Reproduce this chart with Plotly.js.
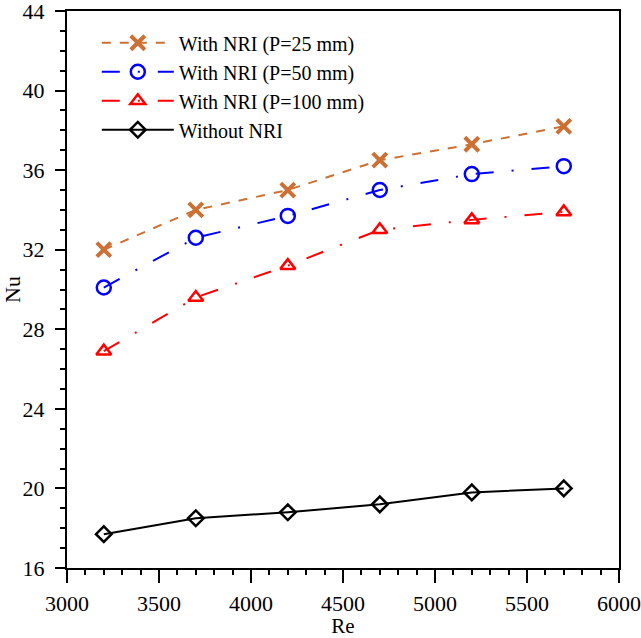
<!DOCTYPE html>
<html>
<head>
<meta charset="utf-8">
<script src="https://cdn.plot.ly/plotly-3.0.1.min.js"></script>
<style>
  html, body { margin: 0; padding: 0; background: #fff; }
  #chart { width: 641px; height: 638px; }
</style>
</head>
<body>
<div id="chart"></div>
<script>
var re = [3200, 3700, 4200, 4700, 5200, 5700];
var nuP25 = [32.0, 34.0, 35.0, 36.5, 37.3, 38.2];
var nuP50 = [30.1, 32.6, 33.7, 35.0, 35.8, 36.2];
var nuP100 = [26.9, 29.6, 31.2, 33.0, 33.5, 33.9];
var nuPlain = [17.7, 18.5, 18.8, 19.2, 19.8, 20.0];

var serif = 'Liberation Serif';

var p25Trace = {
  name: 'With NRI (P=25 mm)',
  x: re,
  y: nuP25,
  mode: 'lines+markers',
  type: 'scatter',
  line: { color: '#cc7033', width: 2, dash: 'dash' },
  marker: { symbol: 'x-thin-open', size: 14, color: '#cc7033',
            line: { color: '#cc7033', width: 4 } },
};

var p50Trace = {
  name: 'With NRI (P=50 mm)',
  x: re,
  y: nuP50,
  mode: 'lines+markers',
  type: 'scatter',
  line: { color: '#0000ff', width: 2, dash: '18px,18px,2px,18px' },
  marker: { symbol: 'circle-open', size: 14, color: '#0000ff',
            line: { color: '#0000ff', width: 2.5 } },
};

var p100Trace = {
  name: 'With NRI (P=100 mm)',
  x: re,
  y: nuP100,
  mode: 'lines+markers',
  type: 'scatter',
  line: { color: '#ff0000', width: 2, dash: '18px,18px,2px,18px' },
  marker: { symbol: 'triangle-up-open', size: 13, color: '#ff0000',
            line: { color: '#ff0000', width: 2.5 } },
};

var plainTrace = {
  name: 'Without NRI',
  x: re,
  y: nuPlain,
  mode: 'lines+markers',
  type: 'scatter',
  line: { color: '#000000', width: 2 },
  marker: { symbol: 'diamond-open', size: 12, color: '#000000',
            line: { color: '#000000', width: 2.5 } },
};

var data = [p25Trace, p50Trace, p100Trace, plainTrace];

var layout = {
  width: 641,
  height: 638,
  margin: { l: 67, r: 22, t: 11, b: 70 },
  paper_bgcolor: '#ffffff',
  plot_bgcolor: '#ffffff',
  font: { family: serif, size: 20, color: '#000000' },
  showlegend: true,
  legend: {
    x: 0.054, y: 0.978,
    xanchor: 'left', yanchor: 'top',
    bgcolor: 'rgba(0,0,0,0)',
    itemwidth: 72,
    font: { family: serif, size: 20, color: '#000000' },
  },
  xaxis: {
    range: [3000, 6000],
    autorange: false,
    dtick: 500,
    ticks: 'outside', ticklen: 13, tickwidth: 2, tickcolor: '#000',
    minor: { dtick: 100, ticks: 'outside', ticklen: 5, tickwidth: 2, tickcolor: '#000' },
    showline: true, linewidth: 2, linecolor: '#000', mirror: true,
    showgrid: false, zeroline: false,
    ticklabelstandoff: 2,
    title: { text: 'Re', font: { family: serif, size: 21 } },
    tickfont: { family: serif, size: 22, color: '#000' },
  },
  yaxis: {
    range: [16, 44],
    autorange: false,
    dtick: 4,
    ticks: 'outside', ticklen: 10, tickwidth: 2, tickcolor: '#000',
    minor: { dtick: 1, ticks: 'outside', ticklen: 5, tickwidth: 2, tickcolor: '#000' },
    showline: true, linewidth: 2, linecolor: '#000', mirror: true,
    showgrid: false, zeroline: false,
    ticklabeloverflow: 'allow',
    ticklabelstandoff: 6,
    title: { text: 'Nu', font: { family: serif, size: 22 }, standoff: 4 },
    tickfont: { family: serif, size: 22, color: '#000' },
  },
};

Plotly.newPlot('chart', data, layout, { displayModeBar: false, staticPlot: true });
</script>
</body>
</html>
